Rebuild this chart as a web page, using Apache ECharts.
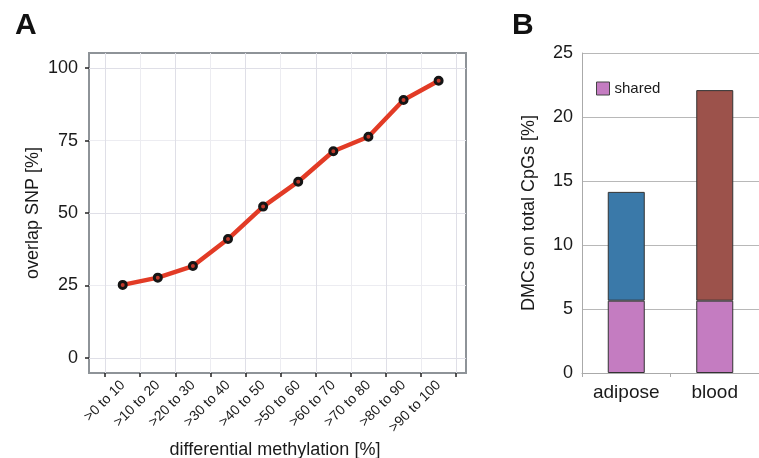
<!DOCTYPE html>
<html><head><meta charset="utf-8">
<script src="https://cdn.jsdelivr.net/npm/echarts@6/dist/echarts.min.js"></script>
<style>html,body{margin:0;padding:0;background:#fff}#c{width:759px;height:458px}</style>
</head><body><div id="c"></div>
<script>
// Panel A data
var methylBins = ['>0 to 10','>10 to 20','>20 to 30','>30 to 40','>40 to 50','>50 to 60','>60 to 70','>70 to 80','>80 to 90','>90 to 100'];
var binCenters = [5, 15, 25, 35, 45, 55, 65, 75, 85, 95];
var overlapSNP = [25.2, 27.7, 31.7, 41.0, 52.2, 60.8, 71.3, 76.3, 89.0, 95.6];
var binEdges = [0,10,20,30,40,50,60,70,80,90,100];
var ySnpTicks = [0, 25, 50, 75, 100];
// Panel B data
var tissues = ['adipose', 'blood'];
var sharedDMC = [5.65, 5.65];
var specificDMC = [8.5, 16.45];
var specificColors = ['#3a79a9', '#9c524b'];

var font = 'Liberation Sans, Arial, Helvetica, sans-serif';
var txt = '#1a1a1a';
var minorX = [], minorY = [];
for (var i = 0; i <= 20; i++) minorX.push(i * 5);
for (var j = 0; j <= 8; j++) minorY.push(j * 12.5);

var chart = echarts.init(document.getElementById('c'), null, {renderer: 'canvas'});
chart.setOption({
  animation: false,
  textStyle: {fontFamily: font},
  title: [
    {text: 'A', left: 10, top: 6, textStyle: {fontSize: 30, fontWeight: 'bold', color: '#111', fontFamily: font}},
    {text: 'B', left: 507, top: 6, textStyle: {fontSize: 30, fontWeight: 'bold', color: '#111', fontFamily: font}},
    {text: 'differential methylation [%]', left: 270, top: 436, textAlign: 'center',
     textStyle: {fontSize: 18, fontWeight: 'normal', color: txt, fontFamily: font}}
  ],
  legend: {
    data: [{name: 'shared', icon: 'rect'}], left: 591, top: 76, itemWidth: 13, itemHeight: 13, itemGap: 6,
    textStyle: {fontSize: 15, color: txt, fontFamily: font},
    itemStyle: {borderColor: '#444', borderWidth: 1}
  },
  grid: [
    {left: 89, top: 53, width: 377, height: 320, show: true, borderColor: '#8e9398', borderWidth: 2, backgroundColor: '#fff'},
    {left: 582, top: 53, height: 320, right: -12}
  ],
  xAxis: [
    {
      gridIndex: 0, type: 'value', min: -4.6, max: 102.8,
      axisLine: {show: false, onZero: false},
      axisTick: {show: true, length: 4, lineStyle: {color: '#222', width: 1.5}, customValues: binEdges},
      axisLabel: {
        customValues: binCenters, rotate: 45, margin: 10, fontSize: 14, color: txt, fontFamily: font,
        formatter: function (v) { var k = binCenters.indexOf(v); return k >= 0 ? methylBins[k] : ''; }
      },
      splitLine: {show: true, customValues: minorX, lineStyle: {color: ['#dfdfe7', '#ececf1'], width: 1}}
    },
    {
      gridIndex: 1, type: 'category', data: tissues,
      axisLine: {show: true, lineStyle: {color: '#aaa', width: 1}},
      axisTick: {show: true, length: 4, lineStyle: {color: '#aaa'}},
      axisLabel: {fontSize: 19, color: txt, margin: 10, fontFamily: font},
      splitLine: {show: false}
    }
  ],
  yAxis: [
    {
      gridIndex: 0, type: 'value', min: -5.2, max: 105.2,
      name: 'overlap SNP [%]', nameLocation: 'middle', nameGap: 47, nameRotate: 90,
      nameTextStyle: {fontSize: 18, color: txt, fontFamily: font},
      axisLine: {show: false, onZero: false},
      axisTick: {show: true, length: 4, lineStyle: {color: '#222', width: 1.5}, customValues: ySnpTicks},
      axisLabel: {customValues: ySnpTicks, fontSize: 18, color: txt, margin: 11, fontFamily: font},
      splitLine: {show: true, customValues: minorY, lineStyle: {color: ['#dfdfe7', '#ececf1'], width: 1}}
    },
    {
      gridIndex: 1, type: 'value', min: 0, max: 25, interval: 5,
      name: 'DMCs on total CpGs [%]', nameLocation: 'middle', nameGap: 44, nameRotate: 90,
      nameTextStyle: {fontSize: 18, color: txt, fontFamily: font},
      axisLine: {show: true, lineStyle: {color: '#aaa', width: 1}},
      axisTick: {show: false},
      axisLabel: {fontSize: 18, color: txt, margin: 9, fontFamily: font},
      splitLine: {show: true, lineStyle: {color: '#b8b8b8', width: 1}}
    }
  ],
  series: [
    {
      type: 'line', xAxisIndex: 0, yAxisIndex: 0,
      data: binCenters.map(function (x, i) { return [x, overlapSNP[i]]; }),
      lineStyle: {color: '#e23b26', width: 4.5},
      symbol: 'circle', symbolSize: 7,
      itemStyle: {color: '#c0392b', borderColor: '#151515', borderWidth: 3},
      z: 3
    },
    {
      name: 'shared', type: 'bar', xAxisIndex: 1, yAxisIndex: 1, stack: 'dmc',
      barWidth: 37, data: sharedDMC,
      itemStyle: {color: '#c47cc1', borderColor: '#333', borderWidth: 1}
    },
    {
      name: 'specific', type: 'bar', xAxisIndex: 1, yAxisIndex: 1, stack: 'dmc',
      barWidth: 37,
      data: specificDMC.map(function (v, i) { return {value: v, itemStyle: {color: specificColors[i]}}; }),
      itemStyle: {borderColor: '#333', borderWidth: 1}
    }
  ]
});
</script></body></html>
